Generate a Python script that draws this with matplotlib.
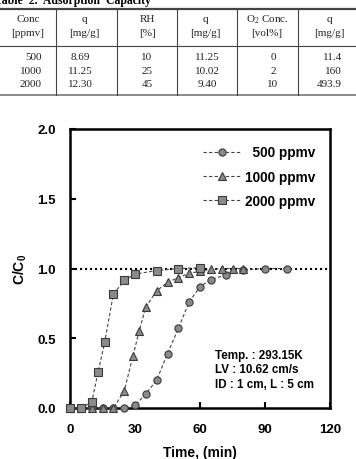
import matplotlib
matplotlib.use("Agg")
import matplotlib.pyplot as plt
from matplotlib.lines import Line2D

# ---- data ----
t_500 = [0, 5, 10, 15, 20, 25, 30, 35, 40, 45, 50, 55, 60, 65, 72, 80, 90, 100]
c_500 = [0, 0, 0, 0, 0, 0, 0.02, 0.10, 0.20, 0.39, 0.57, 0.76, 0.87, 0.92, 0.955, 0.99, 1.0, 1.0]

t_1000 = [0, 5, 10, 15, 20, 25, 29, 32, 35, 40, 45, 50, 55, 60, 65, 70, 75, 80]
c_1000 = [0, 0, 0, 0, 0, 0.12, 0.37, 0.555, 0.725, 0.84, 0.90, 0.935, 0.965, 0.98, 0.995, 1.0, 1.0, 1.0]

t_2000 = [0, 5, 10, 13, 16, 20, 25, 30, 40, 50, 60]
c_2000 = [0, 0, 0.04, 0.26, 0.47, 0.815, 0.915, 0.96, 0.985, 1.0, 1.005]

series_labels = ["  500 ppmv", "1000 ppmv", "2000 ppmv"]
series_markers = ["o", "^", "s"]

x_ticks = [0, 30, 60, 90, 120]
y_ticks = [0.0, 0.5, 1.0, 1.5, 2.0]

conditions = ["Temp. : 293.15K", "LV : 10.62 cm/s", "ID : 1 cm, L : 5 cm"]

table_title = "Table  2.  Adsorption  Capacity"
table_header1 = ["Conc", "q", "RH", "q", "O$_2$ Conc.", "q"]
table_header2 = ["[ppmv]", "[mg/g]", "[%]", "[mg/g]", "[vol%]", "[mg/g]"]
col_conc = ["500", "1000", "2000"]
col_q1 = ["8.69", "11.25", "12.30"]
col_rh = ["10", "25", "45"]
col_q2 = ["11.25", "10.02", "9.40"]
col_o2 = ["0", "2", "10"]
col_q3 = ["11.4", "160", "493.9"]

plt.rcParams["mathtext.fontset"] = "custom"
plt.rcParams["mathtext.rm"] = "Liberation Serif"
plt.rcParams["mathtext.it"] = "Liberation Serif:italic"
plt.rcParams["mathtext.bf"] = "Liberation Sans:bold"

W, H = 356, 460
fig = plt.figure(figsize=(W / 100, H / 100), dpi=100)

def fx(px):
    return px / W

def fy(py):
    return 1 - py / H

# ---- table ----
serif = "Liberation Serif"
fig.text(fx(-5), fy(4), table_title, fontfamily=serif, fontweight="bold",
         fontsize=8.5, ha="left", va="baseline")
line_col = "#444444"
fig.add_artist(Line2D([0, 1], [fy(10), fy(10)], transform=fig.transFigure, color=line_col, lw=1.6))
fig.add_artist(Line2D([0, 1], [fy(47), fy(47)], transform=fig.transFigure, color=line_col, lw=0.8))
fig.add_artist(Line2D([0, 1], [fy(96), fy(96)], transform=fig.transFigure, color="#777777", lw=1.2))
for vx in [56, 117, 177, 237, 298]:
    fig.add_artist(Line2D([fx(vx), fx(vx)], [fy(10), fy(96)], transform=fig.transFigure,
                          color=line_col, lw=0.8))

hdr_x = [28, 84, 147, 205, 267, 329]
for x, h1, h2 in zip(hdr_x, table_header1, table_header2):
    fig.text(fx(x), fy(20), h1, fontfamily=serif, fontsize=8, ha="center", va="center", color="#222222")
    fig.text(fx(x), fy(34), h2, fontfamily=serif, fontsize=8, ha="center", va="center", color="#222222")

row_y = [58, 71, 85]
cols = [(col_conc, 42, "right"), (col_q1, 80, "center"), (col_rh, 147, "center"),
        (col_q2, 207, "center"), (col_o2, 273, "center"), (col_q3, 342, "right")]
for vals, x, ha in cols:
    for v, y in zip(vals, row_y):
        fig.text(fx(x), fy(y), v, fontfamily=serif, fontsize=8, ha=ha, va="center", color="#222222")

# ---- chart ----
sans = "Liberation Sans"
ax = fig.add_axes([fx(70), fy(409), fx(260), 279 / H])

mk_face = "#8a8a8a"
mk_edge = "#3a3a3a"
for t, c, lab, m in zip([t_500, t_1000, t_2000], [c_500, c_1000, c_2000], series_labels, series_markers):
    ax.plot(t, c, linestyle=(0, (3, 2)), color="#444444", lw=0.8, marker=m,
            markersize=5.2, markerfacecolor=mk_face, markeredgecolor=mk_edge,
            markeredgewidth=0.8, label=lab, clip_on=False, zorder=3)

ax.axhline(1.0, color="black", linestyle=(0, (1, 1.4)), lw=1.5, zorder=2)

ax.set_xlim(0, 120)
ax.set_ylim(0, 2.0)
ax.set_xticks(x_ticks)
ax.set_yticks(y_ticks)
ax.set_xticklabels([str(v) for v in x_ticks])
ax.set_yticklabels([f"{v:.1f}" for v in y_ticks])
for s in ax.spines.values():
    s.set_linewidth(1.8)
ax.tick_params(direction="in", length=4, width=1.5)
ax.tick_params(axis="x", pad=11)
ax.tick_params(axis="y", pad=10)
for lbl in ax.get_xticklabels() + ax.get_yticklabels():
    lbl.set_fontfamily(sans)
    lbl.set_fontweight("bold")
    lbl.set_fontsize(9.5)

ax.set_xlabel("Time, (min)", fontfamily=sans, fontweight="bold", fontsize=10, labelpad=7)
ax.set_ylabel("C/C$_\\mathbf{0}$", fontfamily=sans, fontweight="bold", fontsize=10, labelpad=6)

leg = ax.legend(loc="upper right", bbox_to_anchor=(0.99, 0.985), frameon=False,
                handlelength=2.8, handletextpad=0.3, labelspacing=0.75,
                prop={"family": sans, "weight": "bold", "size": 9.8})

ax.text(0.558, 0.213, "\n".join(conditions), transform=ax.transAxes, fontfamily=sans,
        fontweight="bold", fontsize=8.4, ha="left", va="top", linespacing=1.3)

fig.savefig("out.png", dpi=100)
